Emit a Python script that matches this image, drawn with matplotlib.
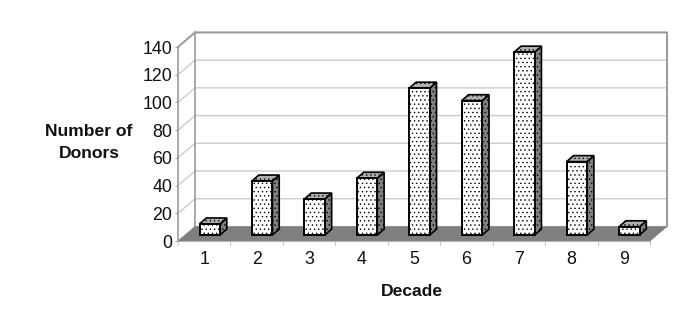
# bar chart of donors per decade, drawn like an old excel 3D column chart
import matplotlib
matplotlib.use('Agg')
import matplotlib.pyplot as plt
from matplotlib.patches import Polygon

plt.rcParams['font.family'] = ['Liberation Sans', 'DejaVu Sans']
plt.rcParams['hatch.linewidth'] = 0.5

decades = ['1', '2', '3', '4', '5', '6', '7', '8', '9']
donors = [8, 39, 26, 41, 106, 97, 132, 53, 6]
y_ticks = [0, 20, 40, 60, 80, 100, 120, 140]

# depth of the box in data units
wall_dx = 0.324
wall_dy = 10.5
bar_w = 0.39
bar_dx = 0.105
bar_dy = 4.3
side_dx = 0.13
side_dy = 4.3

W, H = 685, 319
fig = plt.figure(figsize=(W / 100, H / 100), dpi=100)
ax = fig.add_axes([178 / W, 1 - 241 / H, 472 / W, 194 / H])
ax.set_xlim(0, 9)
ax.set_ylim(0, 140)
for s in ax.spines.values():
    s.set_visible(False)
ax.patch.set_visible(False)

wall_col = '#9a9a9a'
grid_col = '#cccccc'

# floor
ax.add_patch(Polygon([(0, 0), (9, 0), (9 + wall_dx, wall_dy), (wall_dx, wall_dy)],
                     fc='#7f7f7f', ec='#7f7f7f', lw=0.5, clip_on=False, zorder=2))

# gridlines on back wall and left wall
for v in y_ticks[1:]:
    ax.plot([0, wall_dx, 9 + wall_dx], [v, v + wall_dy, v + wall_dy], color=grid_col, lw=1.0,
            clip_on=False, zorder=1)

# wall outlines
ax.plot([0, wall_dx, 9 + wall_dx, 9 + wall_dx], [140, 140 + wall_dy, 140 + wall_dy, wall_dy],
        color=wall_col, lw=1.4, clip_on=False, zorder=1.5)
ax.plot([wall_dx, wall_dx], [wall_dy, 140 + wall_dy], color=wall_col, lw=1.2, clip_on=False, zorder=1.5)
ax.plot([0, 0], [0, 140], color=wall_col, lw=1.2, clip_on=False, zorder=3)
ax.plot([0, 9], [0, 0], color='#b5b5b5', lw=0.8, clip_on=False, zorder=3)

# bars
for i, v in enumerate(donors):
    x0 = i + 0.5 + bar_dx - bar_w / 2
    x1 = x0 + bar_w
    y0 = bar_dy
    y1 = bar_dy + v
    front = [(x0, y0), (x1, y0), (x1, y1), (x0, y1)]
    side = [(x1, y0), (x1 + side_dx, y0 + side_dy), (x1 + side_dx, y1 + side_dy), (x1, y1)]
    top = [(x0, y1), (x1, y1), (x1 + side_dx, y1 + side_dy), (x0 + side_dx, y1 + side_dy)]
    ax.add_patch(Polygon(side, fc='#808080', ec='black', lw=1.2, hatch='....', clip_on=False, zorder=4))
    ax.add_patch(Polygon(top, fc='#b0b0b0', ec='black', lw=1.2, hatch='....', clip_on=False, zorder=4))
    ax.add_patch(Polygon(front, fc='white', ec='black', lw=1.4, hatch='....', clip_on=False, zorder=5))

# ticks
ax.set_yticks(y_ticks)
ax.set_yticklabels([str(v) for v in y_ticks], fontsize=12.8)
ax.tick_params(axis='y', length=2, width=0.7, color='#999999', pad=2, labelcolor='#111111')
ax.set_xticks(range(0, 10))
ax.set_xticklabels([])
ax.set_xticks([i + 0.5 for i in range(9)], minor=True)
ax.set_xticklabels(decades, minor=True, fontsize=12.8, color='#111111')
ax.tick_params(axis='x', which='major', length=3, width=0.7, color='#bbbbbb')
ax.tick_params(axis='x', which='minor', length=0, pad=7)

fig.text(89 / W, 1 - 142.5 / H, 'Number of\nDonors', fontsize=12.6, fontweight='bold', ha='center',
         va='center', linespacing=1.65, color='#111111')
fig.text(412 / W, 1 - 291 / H, 'Decade', fontsize=12.6, fontweight='bold', ha='center', va='center',
         color='#111111')

fig.savefig('out.png', dpi=100, facecolor='white')
